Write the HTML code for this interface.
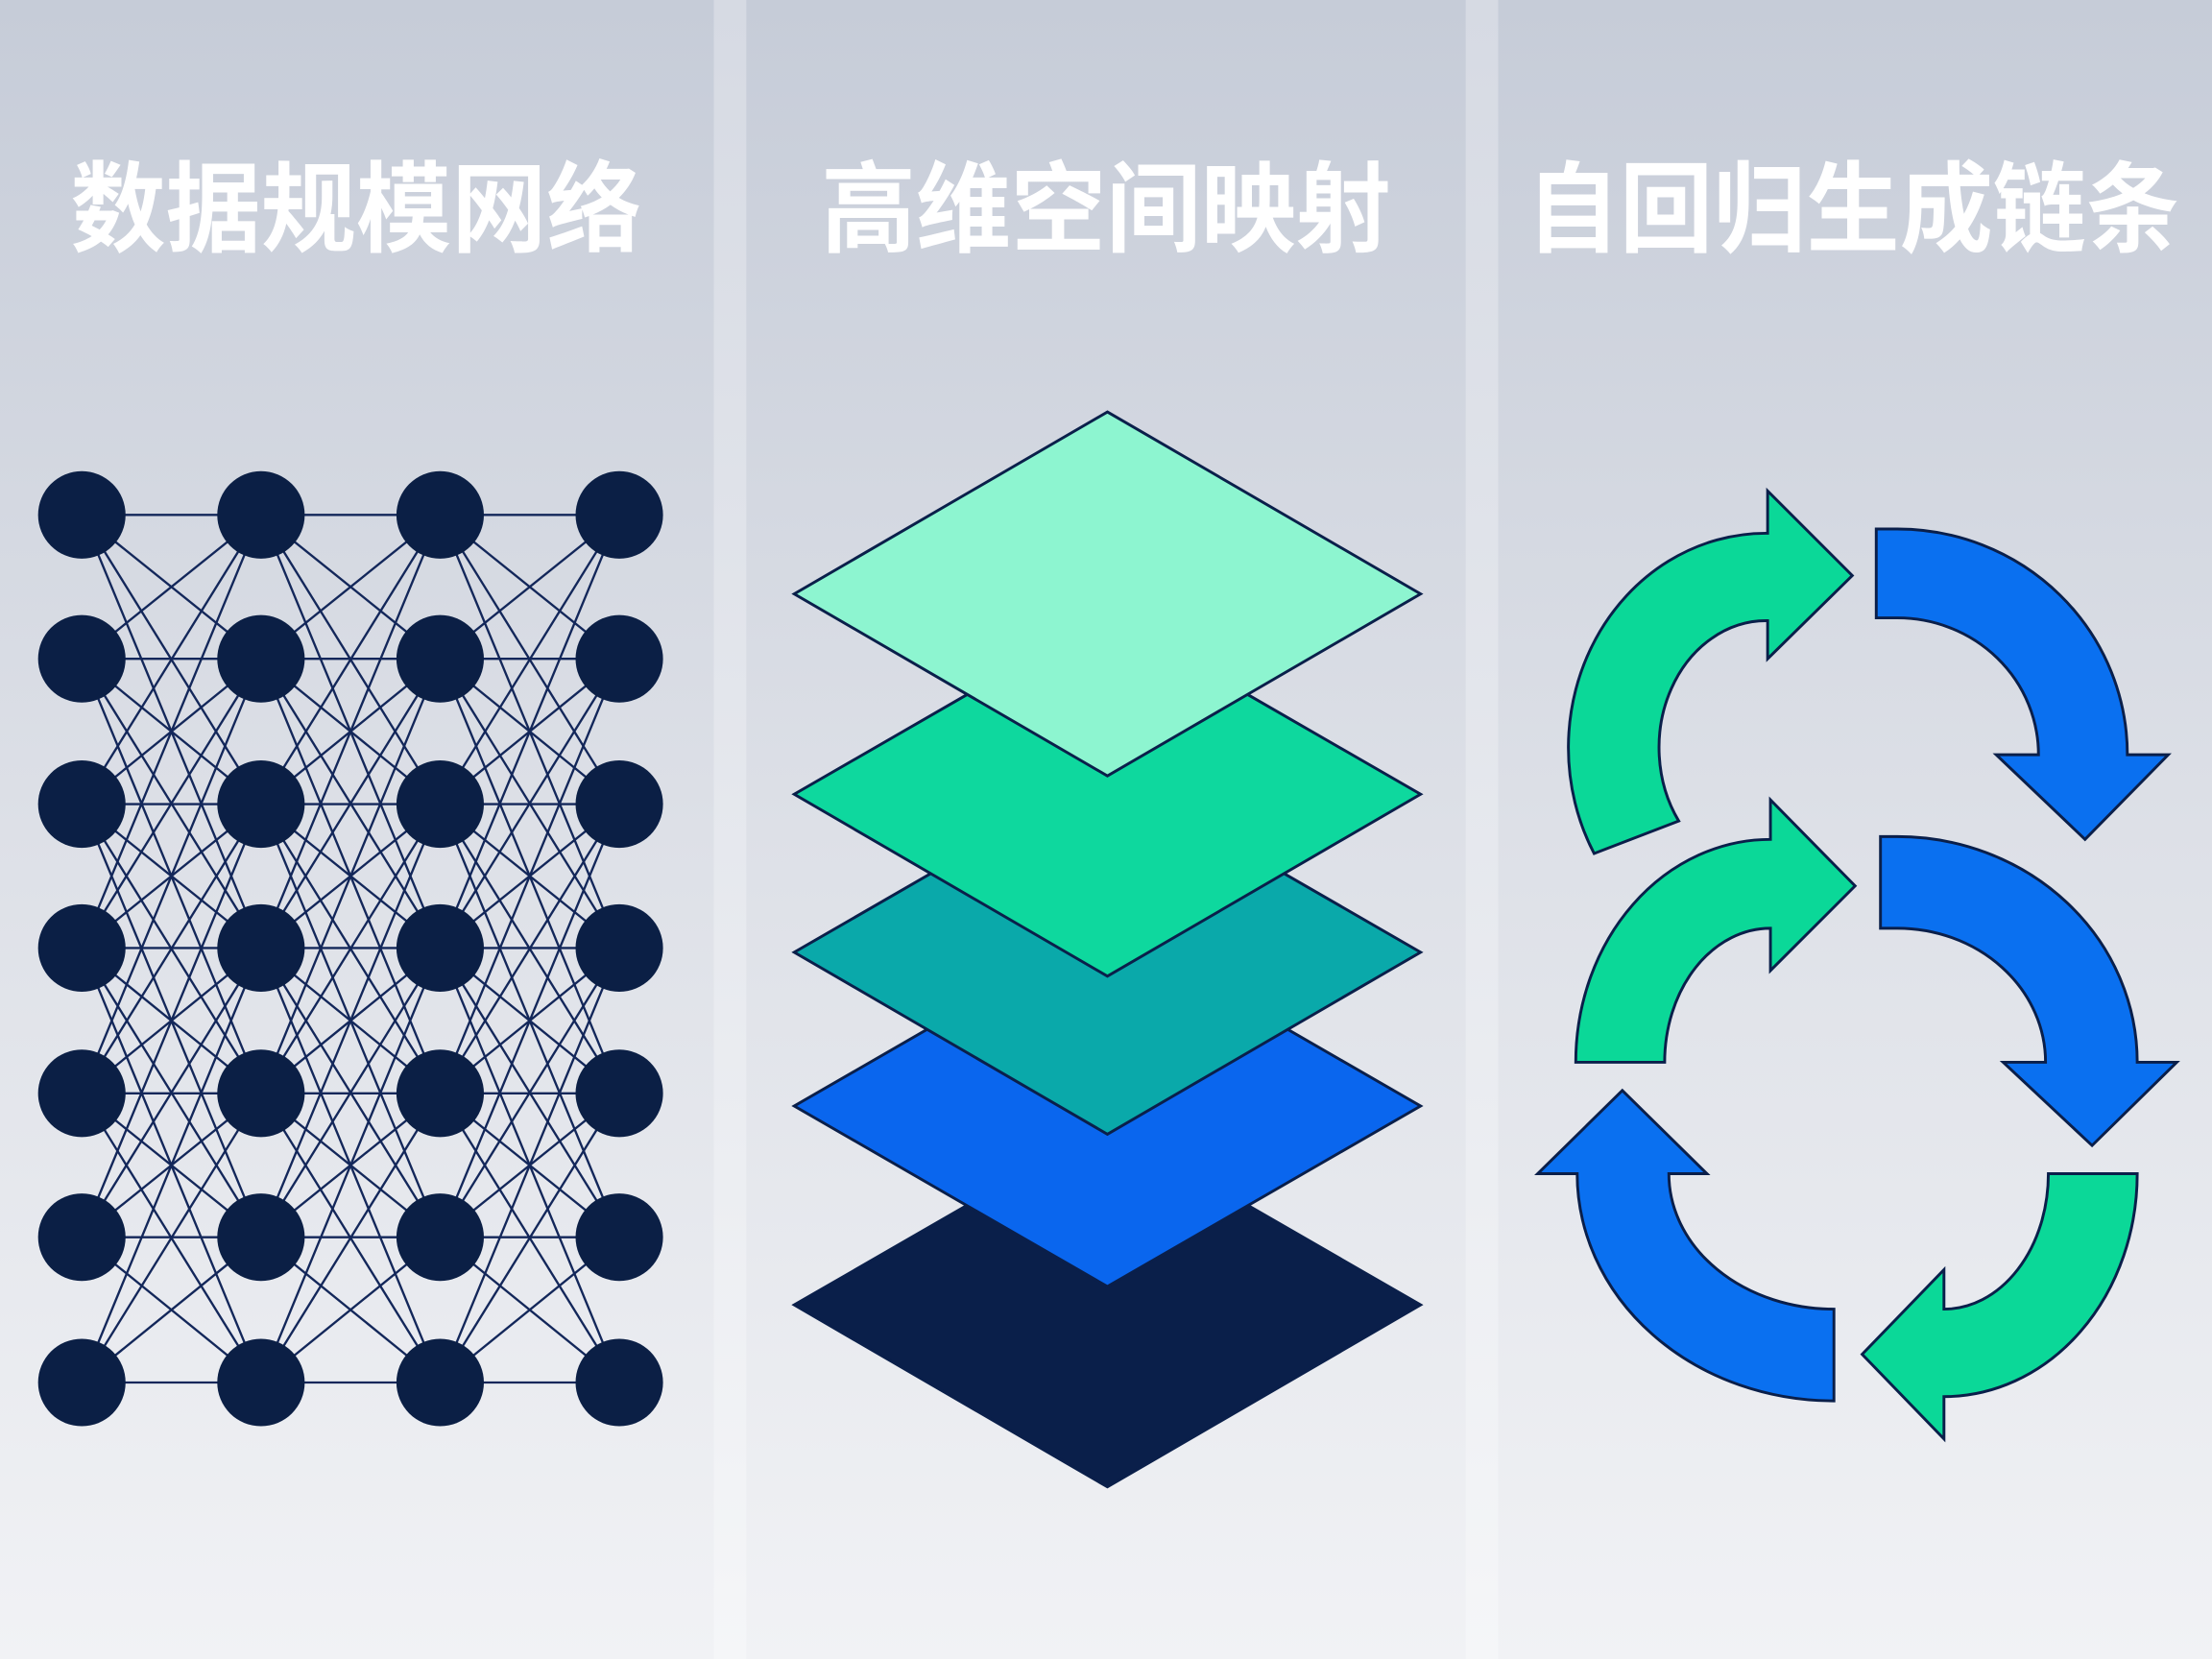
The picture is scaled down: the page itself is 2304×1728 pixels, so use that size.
<!DOCTYPE html>
<html><head><meta charset="utf-8"><style>
html,body{margin:0;padding:0;width:2304px;height:1728px;overflow:hidden}
svg{display:block}
</style></head><body>
<svg width="2304" height="1728" viewBox="0 0 1568 1176" xmlns="http://www.w3.org/2000/svg">
<defs>
<linearGradient id="bg" x1="0" y1="0" x2="0" y2="1">
<stop offset="0" stop-color="#c6ccd8"/><stop offset="0.5" stop-color="#dde0e7"/><stop offset="1" stop-color="#f1f2f5"/>
</linearGradient>
<linearGradient id="st" x1="0" y1="0" x2="0" y2="1">
<stop offset="0" stop-color="#d6dae3"/><stop offset="1" stop-color="#f5f6f8"/>
</linearGradient>
</defs>
<rect width="1568" height="1176" fill="url(#bg)"/>
<rect x="506" y="0" width="23" height="1176" fill="url(#st)"/>
<rect x="1039" y="0" width="23" height="1176" fill="url(#st)"/>
<g font-family="'Liberation Sans','Noto Sans CJK SC',sans-serif" font-size="70" font-weight="bold" fill="#ffffff">
<text x="50" y="173" textLength="405" lengthAdjust="spacingAndGlyphs">数据规模网络</text>
<text x="582" y="173" textLength="404" lengthAdjust="spacingAndGlyphs">高维空间映射</text>
<text x="1082" y="173" textLength="463" lengthAdjust="spacingAndGlyphs">自回归生成链条</text>
</g>
<g id="net" stroke="#13275a" stroke-width="1.6"></g>
<g id="nodes" fill="#0b1f45"></g>
<script>
(function(){
var xs=[58,185,312,439],ys=[365,467,570,672,775,877,980];
var net=document.getElementById('net'),nodes=document.getElementById('nodes');
var ns='http://www.w3.org/2000/svg';
for(var c=0;c<3;c++)for(var i=0;i<7;i++)for(var j=0;j<7;j++){
 if(Math.abs(i-j)>3)continue;
 var l=document.createElementNS(ns,'line');
 l.setAttribute('x1',xs[c]);l.setAttribute('y1',ys[i]);l.setAttribute('x2',xs[c+1]);l.setAttribute('y2',ys[j]);
 net.appendChild(l);}
for(var c=0;c<4;c++)for(var i=0;i<7;i++){
 var e=document.createElementNS(ns,'circle');
 e.setAttribute('cx',xs[c]);e.setAttribute('cy',ys[i]);e.setAttribute('r',31);
 nodes.appendChild(e);}
})();
</script>
<g stroke="#0a1f4a" stroke-width="2" stroke-linejoin="miter">
<polygon points="785,797 1007,925 785,1054 563,925" fill="#0a1f4a"/>
<polygon points="785,656 1007,784 785,912 563,784" fill="#0a66ee"/>
<polygon points="785,547 1007,675 785,804 563,675" fill="#0aa9aa"/>
<polygon points="785,435 1007,563 785,692 563,563" fill="#0ed89e"/>
<polygon points="785,292 1007,421 785,550 563,421" fill="#8df5d0"/>
</g>
<g stroke="#0a1f4a" stroke-width="2" stroke-linejoin="miter">
<path fill="#0bd898" d="M1130,605 A140,152 0 0 1 1253,378 L1253,348 L1313,408 L1253,467 L1253,440 A76,90 0 0 0 1190,582 Z"/>
<path fill="#0a70f0" d="M1330,375 L1345,375 A163,160 0 0 1 1508,535 L1537,535 L1478,595 L1415,535 L1445,535 A100,97 0 0 0 1345,438 L1330,438 Z"/>
<path fill="#0bd898" d="M1117,753 A138,158 0 0 1 1255,595 L1255,567 L1315,628 L1255,688 L1255,658 A75,95 0 0 0 1180,753 Z"/>
<path fill="#0a70f0" d="M1333,593 L1345,593 A170,160 0 0 1 1515,753 L1543,753 L1483,812 L1420,753 L1450,753 A105,95 0 0 0 1345,658 L1333,658 Z"/>
<path fill="#0a70f0" d="M1300,993 A182,161 0 0 1 1118,832 L1090,832 L1150,773 L1210,832 L1183,832 A117,96 0 0 0 1300,928 Z"/>
<path fill="#0bd898" d="M1515,832 A137,158 0 0 1 1378,990 L1378,1020 L1320,960 L1378,900 L1378,928 A74,96 0 0 0 1452,832 Z"/>
</g>
</svg>
</body></html>
